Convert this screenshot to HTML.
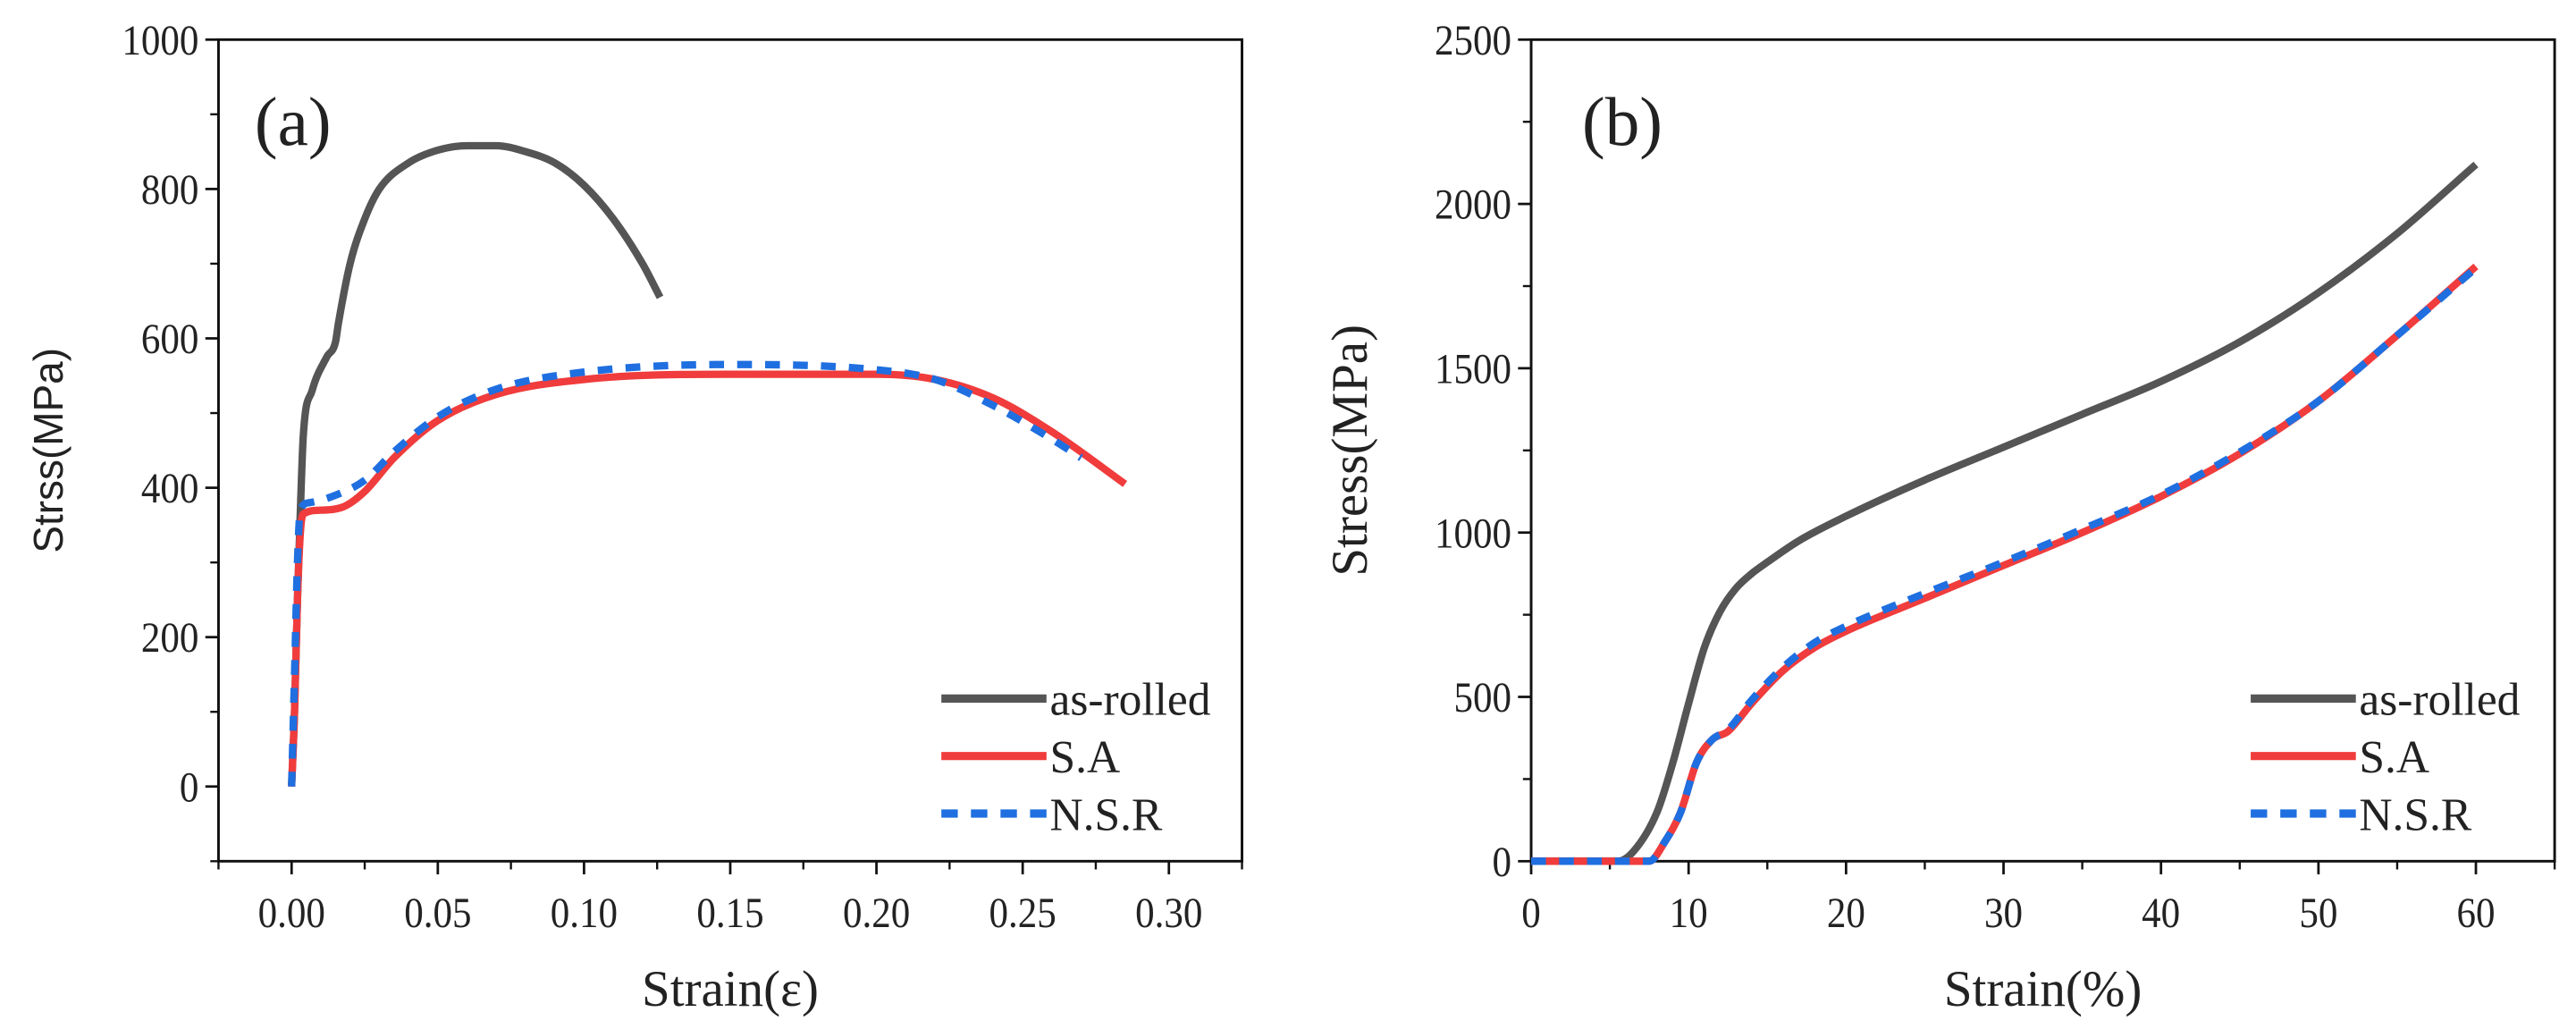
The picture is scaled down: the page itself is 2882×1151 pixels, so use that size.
<!DOCTYPE html>
<html><head><meta charset="utf-8"><style>
html,body{margin:0;padding:0;background:#fff;}
svg{display:block;}
text{font-family:"Liberation Serif",serif;fill:#222;}
</style></head><body>
<svg id="fig" width="2882" height="1151" viewBox="0 0 1568 626" xmlns="http://www.w3.org/2000/svg">
<g id="pa"></g>
<g id="pb"></g>
</svg>
<script>
// Panel (a) data
const aRolledX=[0,0.001,0.002,0.003,0.004,0.007,0.012,0.015,0.016,0.02,0.025,0.03,0.04,0.05,0.06,0.07,0.08,0.09,0.1,0.11,0.12,0.126];
const aRolledY=[0,100,250,370,470,530,575,595,620,700,760,800,835,852,858,858,850,835,805,760,700,655];
const aSAX=[0,0.001,0.002,0.003,0.004,0.01,0.018,0.025,0.035,0.05,0.07,0.1,0.15,0.2,0.22,0.24,0.26,0.285];
const aSAY=[0,100,250,340,365,370,375,395,440,490,525,545,552,552,545,520,475,405];
const aNSRX=[0,0.001,0.002,0.003,0.006,0.015,0.025,0.035,0.05,0.07,0.1,0.15,0.2,0.22,0.24,0.26,0.27];
const aNSRY=[0,150,300,370,380,390,410,448,495,532,555,565,558,545,510,465,440];
const aXTicks=["0.00","0.05","0.10","0.15","0.20","0.25","0.30"];
const aYTicks=["0","200","400","600","800","1000"];
// Panel (b) data
const bRolledX=[0,5.5,6.5,8,9,10,11,12,13,14,15,17,20,25,30,35,40,45,50,55,60];
const bRolledY=[0,0,30,150,300,480,650,760,830,875,910,975,1050,1160,1260,1360,1460,1580,1730,1910,2120];
const bSAX=[0,7.5,8.5,9.5,10.5,11.5,12.5,14,16,18,20,25,30,35,40,45,50,55,60];
const bSAY=[0,0,60,150,300,370,395,480,580,650,700,800,900,1000,1110,1240,1400,1600,1810];
const bNSRX=[0,7.5,8.5,9.5,10.5,11.5,12.5,14,16,18,20,25,30,35,40,45,50,55,60];
const bNSRY=[0,0,60,150,300,370,400,490,590,665,715,815,910,1010,1115,1245,1400,1600,1805];
const bXTicks=["0","10","20","30","40","50","60"];
const bYTicks=["0","500","1000","1500","2000","2500"];

const NS="http://www.w3.org/2000/svg";
function mk(parent,tag,attrs,txt){const e=document.createElementNS(NS,tag);for(const k in attrs)e.setAttribute(k,attrs[k]);if(txt!==undefined)e.textContent=txt;parent.appendChild(e);return e;}
// monotone cubic (Fritsch-Carlson) in pixel space
function pathD(xs,ys,sx,sy){const X=xs.map(sx),Y=ys.map(sy),n=X.length;
 const d=[],m=new Array(n);for(let i=0;i<n-1;i++){const h=X[i+1]-X[i];d.push(h===0?0:(Y[i+1]-Y[i])/h);}
 m[0]=d[0];m[n-1]=d[n-2];for(let i=1;i<n-1;i++){m[i]=(d[i-1]*d[i]<=0)?0:(d[i-1]+d[i])/2;}
 for(let i=0;i<n-1;i++){if(d[i]===0){m[i]=0;m[i+1]=0;continue;}const a=m[i]/d[i],b=m[i+1]/d[i],s=a*a+b*b;if(s>9){const t=3/Math.sqrt(s);m[i]=t*a*d[i];m[i+1]=t*b*d[i];}}
 let p="M"+X[0].toFixed(2)+","+Y[0].toFixed(2);
 for(let i=0;i<n-1;i++){const h=(X[i+1]-X[i])/3;p+=" C"+(X[i]+h).toFixed(2)+","+(Y[i]+m[i]*h).toFixed(2)+" "+(X[i+1]-h).toFixed(2)+","+(Y[i+1]-m[i+1]*h).toFixed(2)+" "+X[i+1].toFixed(2)+","+Y[i+1].toFixed(2);}
 return p;}

function panel(g,cfg){
 const L=cfg.L,R=cfg.R,T=24,B=524;
 const sx=v=>L+(v-cfg.x0)/(cfg.x1-cfg.x0)*(R-L);
 const sy=v=>B-(v-cfg.y0)/(cfg.y1-cfg.y0)*(B-T);
 const fr=mk(g,'rect',{x:L,y:T,width:R-L,height:B-T,fill:'none',stroke:'#111','stroke-width':1.6});
 
 
 cfg.xt.forEach(t=>{const v=parseFloat(t),x=sx(v);
  const tk=mk(g,'line',{x1:x,y1:B,x2:x,y2:B+8,stroke:'#111','stroke-width':1.5});
  
  
  const lb=mk(g,'text',{x:x,y:B+40,'text-anchor':'middle','font-size':26,transform:'translate('+x+',0) scale(0.9,1) translate('+(-x)+',0)'},t);
  
  
  const xm=sx(v+cfg.xminor);if(xm<R+1)mk(g,'line',{x1:xm,y1:B,x2:xm,y2:B+5,stroke:'#111','stroke-width':1.3});
  const xm2=sx(v-cfg.xminor);if(xm2>L-1&&t===cfg.xt[0])mk(g,'line',{x1:xm2,y1:B,x2:xm2,y2:B+5,stroke:'#111','stroke-width':1.3});
 });
 cfg.yt.forEach(t=>{const v=parseFloat(t),y=sy(v);
  const tk=mk(g,'line',{x1:L,y1:y,x2:L-8,y2:y,stroke:'#111','stroke-width':1.5});
  
  
  const tx=L-12;
  const lb=mk(g,'text',{x:tx,y:y+9,'text-anchor':'end','font-size':26,transform:'translate('+tx+',0) scale(0.9,1) translate('+(-tx)+',0)'},t);
  
  
  const ym=sy(v+cfg.yminor);if(ym>T-1&&v+cfg.yminor<cfg.y1)mk(g,'line',{x1:L,y1:ym,x2:L-5,y2:ym,stroke:'#111','stroke-width':1.3});
  if(t===cfg.yt[0]){const ym2=sy(v-cfg.yminor);if(ym2<B+1)mk(g,'line',{x1:L,y1:ym2,x2:L-5,y2:ym2,stroke:'#111','stroke-width':1.3});}
 });
 const xt=mk(g,'text',{x:(L+R)/2,y:612,'text-anchor':'middle','font-size':31},cfg.xlabel);
 
 
 const yt=mk(g,'text',{x:0,y:0,'text-anchor':'middle','font-size':cfg.ylfs,transform:'translate('+cfg.ylx+',274) rotate(-90)',style:'font-family:'+cfg.ylfont},cfg.ylabel);
 
 
 const pl=mk(g,'text',{x:cfg.plx,y:88,'font-size':42},cfg.plabel);
 
 
 const series=[
  {xs:cfg.s[0][0],ys:cfg.s[0][1],c:'#555',dash:null,n:'as-rolled'},
  {xs:cfg.s[1][0],ys:cfg.s[1][1],c:'#f03c3c',dash:null,n:'S.A'},
  {xs:cfg.s[2][0],ys:cfg.s[2][1],c:'#1f6fe0',dash:'9,8',n:'N.S.R'}];
 series.forEach((s,i)=>{
  const a={d:pathD(s.xs,s.ys,sx,sy),fill:'none',stroke:s.c,'stroke-width':4.5,'stroke-linejoin':'round'};
  if(s.dash)a['stroke-dasharray']=s.dash;
  const p=mk(g,'path',a);
  
  
  const ly=[425,460,495][i];
  const la={x1:cfg.lgx,y1:ly,x2:cfg.lgx+64,y2:ly,stroke:s.c,'stroke-width':5};
  if(s.dash)la['stroke-dasharray']='10,8';
  const ll=mk(g,'line',la);
  
  
  const lt=mk(g,'text',{x:cfg.lgx+66,y:ly+10,'font-size':28},s.n);
  
  
 });
}
panel(document.getElementById('pa'),{L:133,R:756,x0:-0.025,x1:0.325,y0:-100,y1:1000,xt:aXTicks,yt:aYTicks,xminor:0.025,yminor:100,
 xlabel:'Strain(ε)',ylabel:'Strss(MPa)',ylx:38,ylfs:25,ylfont:'"Liberation Sans",sans-serif',plabel:'(a)',plx:155,lgx:573,
 s:[[aRolledX,aRolledY],[aSAX,aSAY],[aNSRX,aNSRY]]});
panel(document.getElementById('pb'),{L:932,R:1555,x0:0,x1:65,y0:0,y1:2500,xt:bXTicks,yt:bYTicks,xminor:5,yminor:250,
 xlabel:'Strain(%)',ylabel:'Stress(MPa)',ylx:832,ylfs:31,ylfont:'"Liberation Serif",serif',plabel:'(b)',plx:963,lgx:1370,
 s:[[bRolledX,bRolledY],[bSAX,bSAY],[bNSRX,bNSRY]]});
</script>
</body></html>
